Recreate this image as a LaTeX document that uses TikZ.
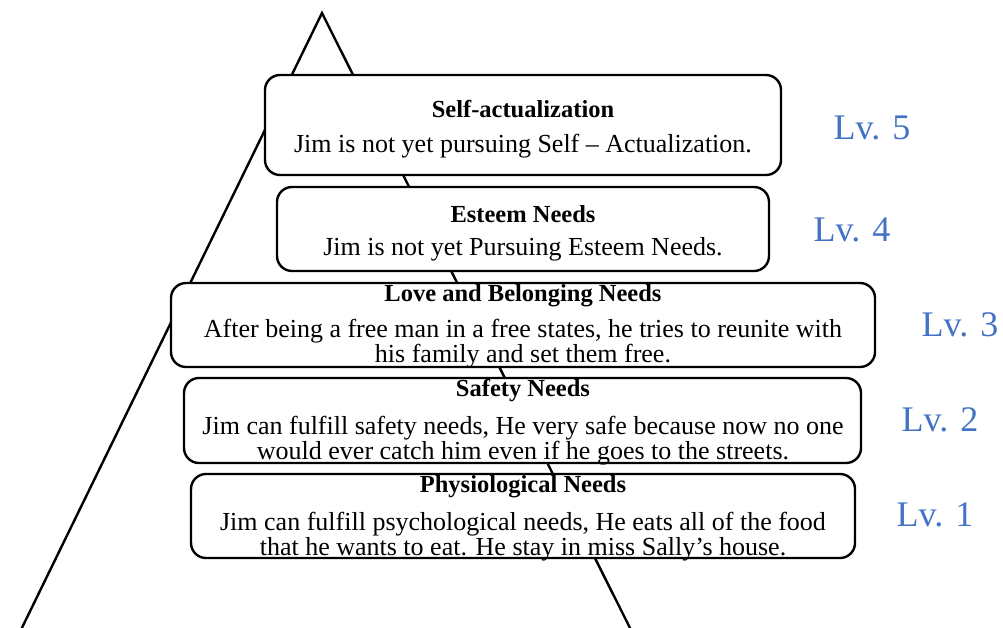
\documentclass[tikz,border=0pt]{standalone}
\usepackage{fontspec}
\setmainfont{Liberation Serif}
\definecolor{lvblue}{HTML}{4472C4}
\tikzset{
  box/.style={draw=black, line width=2.4pt, rounded corners=15pt, fill=white, inner sep=0pt},
  ttl/.style={font=\fontsize{24.5}{26}\selectfont\bfseries, inner sep=0pt},
  body/.style={font=\fontsize{26}{25}\selectfont, align=center, inner sep=0pt},
  lv/.style={font=\fontsize{36}{38}\selectfont, text=lvblue, inner sep=0pt},
}
\begin{document}
\begin{tikzpicture}[x=1pt,y=-1pt]
\useasboundingbox (0,0) rectangle (1003,627);
% pyramid
\coordinate (apex) at (322,13);
\coordinate (bl) at (16,640);
\coordinate (br) at (636,640);
\draw[line width=2.4pt, line join=miter] (bl) -- (apex) -- (br);
% boxes
\node[box, minimum width=516pt, minimum height=100pt] (b5) at (523,125) {};
\node[box, minimum width=492pt, minimum height=84pt] (b4) at (523,229) {};
\node[box, minimum width=704pt, minimum height=84pt] (b3) at (523,325) {};
\node[box, minimum width=677pt, minimum height=85pt] (b2) at (522.5,420.5) {};
\node[box, minimum width=664pt, minimum height=84pt] (b1) at (523,516) {};
% texts
\node[ttl] (t5) at (523,109) {Self-actualization};
\node[body] (d5) at (523,146) {Jim is not yet pursuing Self -- Actualization.};
\node[ttl] (t4) at (523,214) {Esteem Needs};
\node[body] (d4) at (523,249) {Jim is not yet Pursuing Esteem Needs.};
\node[ttl] (t3) at (523,296) {Love and Belonging Needs};
\node[body] (d3) at (523,344) {After being a free man in a free states, he tries to reunite with\\his family and set them free.};
\node[ttl] (t2) at (523,391) {Safety Needs};
\node[body] (d2) at (523,441) {Jim can fulfill safety needs, He very safe because now no one\\would ever catch him even if he goes to the streets.};
\node[ttl] (t1) at (523,487) {Physiological Needs};
\node[body] (d1) at (523,537) {Jim can fulfill psychological needs, He eats all of the food\\that he wants to eat. He stay in miss Sally's house.};
% levels
\node[lv] (l5) at (872,128) {Lv. 5};
\node[lv] (l4) at (852,230) {Lv. 4};
\node[lv] (l3) at (960,325) {Lv. 3};
\node[lv] (l2) at (940,420) {Lv. 2};
\node[lv] (l1) at (935,515) {Lv. 1};
\end{tikzpicture}
\end{document}
